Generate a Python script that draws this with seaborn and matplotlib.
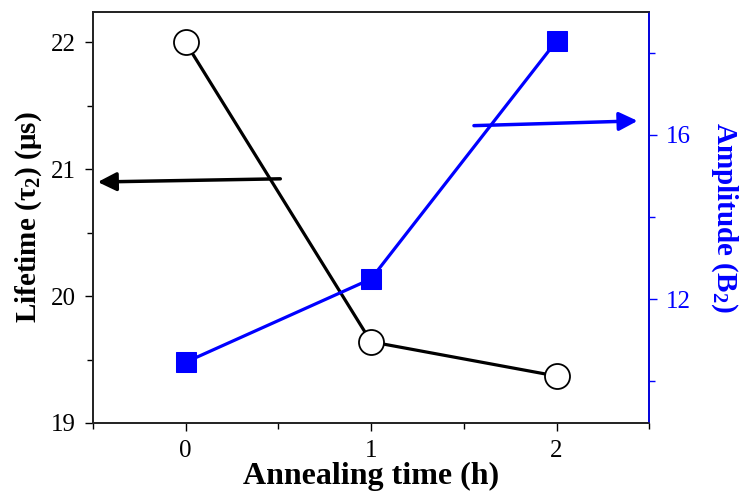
import numpy as np
import pandas as pd
import matplotlib
matplotlib.use("Agg")
import matplotlib.pyplot as plt
from matplotlib.ticker import MultipleLocator
import seaborn as sns

# data
time_h = [0, 1, 2]
lifetime = [22.0, 19.64, 19.37]
amplitude = [10.46, 12.49, 18.29]

sns.set_style("ticks")
plt.rcParams['font.family'] = ['Liberation Serif', 'DejaVu Serif']
plt.rcParams['mathtext.fontset'] = 'custom'
plt.rcParams['mathtext.rm'] = 'Liberation Serif'
plt.rcParams['mathtext.bf'] = 'Liberation Serif:bold'
plt.rcParams['text.color'] = 'black'
plt.rcParams['axes.labelcolor'] = 'black'
plt.rcParams['xtick.color'] = 'black'
plt.rcParams['ytick.color'] = 'black'

df = pd.DataFrame({'time': time_h, 'lifetime': lifetime, 'amp': amplitude})

fig = plt.figure(figsize=(7.48, 4.93), dpi=100)
ax = fig.add_axes([0.124, 0.142, 0.744, 0.834])
ax2 = ax.twinx()

sns.lineplot(data=df, x='time', y='lifetime', ax=ax, color='black', lw=2.3,
             marker='o', markersize=18, markerfacecolor='white',
             markeredgecolor='black', markeredgewidth=1.3)
sns.lineplot(data=df, x='time', y='amp', ax=ax2, color='blue', lw=2.3,
             marker='s', markersize=15, markerfacecolor='blue',
             markeredgecolor='blue')

ax.set_xlim(-0.5, 2.5)
ax.set_ylim(19, 22.24)
ax2.set_ylim(8.98, 19.0)

ax.xaxis.set_major_locator(MultipleLocator(1))
ax.xaxis.set_minor_locator(MultipleLocator(0.5))
ax.yaxis.set_major_locator(MultipleLocator(1))
ax.yaxis.set_minor_locator(MultipleLocator(0.5))
ax2.yaxis.set_major_locator(MultipleLocator(4))
ax2.yaxis.set_minor_locator(MultipleLocator(2))

for a in (ax, ax2):
    a.tick_params(which='major', direction='out', length=6, width=1, labelsize=18, pad=6)
    a.tick_params(which='minor', direction='out', length=4, width=1)
ax.tick_params(axis='y', which='both', right=False)
ax.tick_params(axis='x', which='both', top=False)
ax2.tick_params(axis='y', which='both', colors='blue', labelcolor='blue')

for s in ax.spines.values():
    s.set_linewidth(1.2)
    s.set_color('black')
for s in ax2.spines.values():
    s.set_linewidth(1.2)
ax2.spines['right'].set_color('blue')

ax.set_xlabel('Annealing time (h)', fontsize=23, fontweight='bold', labelpad=0)
ax.set_ylabel(r'Lifetime (τ$_\mathbf{2}$) (μs)', fontsize=21, fontweight='bold', labelpad=5)
ax2.set_ylabel(r'Amplitude (B$_\mathbf{2}$)', fontsize=21, fontweight='bold',
               color='blue', rotation=270, labelpad=35)

ax.annotate('', xy=(0.004, 0.586), xytext=(0.342, 0.594), xycoords='axes fraction',
            arrowprops=dict(arrowstyle='-|>', color='black', lw=2.5, mutation_scale=28))
ax.annotate('', xy=(0.984, 0.735), xytext=(0.680, 0.723), xycoords='axes fraction',
            arrowprops=dict(arrowstyle='-|>', color='blue', lw=2.5, mutation_scale=28))

fig.savefig('out.png', dpi=100)
